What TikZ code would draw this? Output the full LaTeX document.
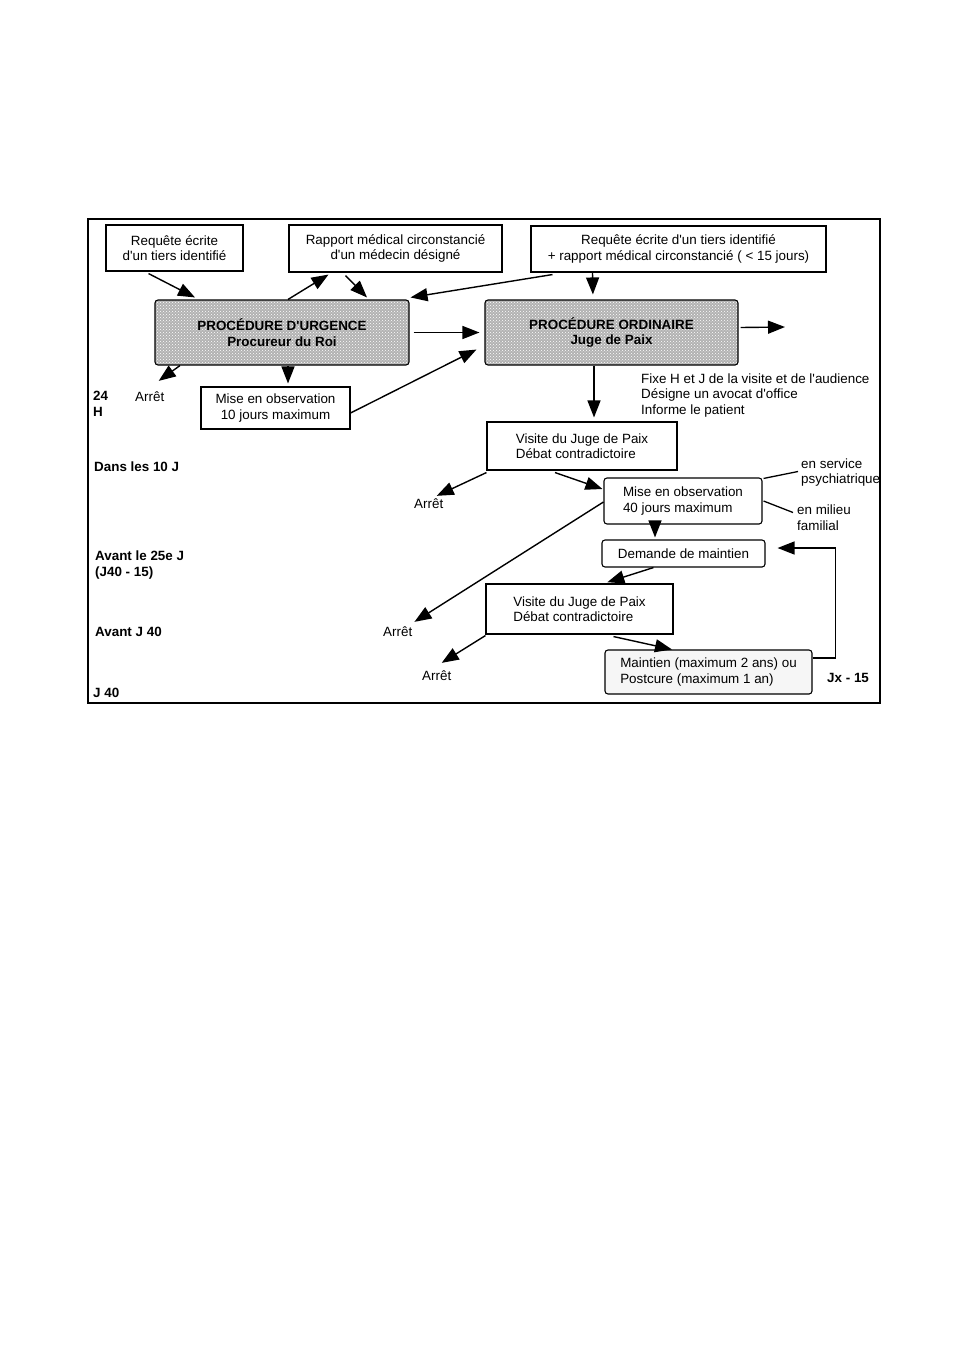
\documentclass[tikz,border=0pt]{standalone}
\usepackage{fontspec}
\setmainfont{Liberation Sans}[Ligatures=TeXOff]
\usetikzlibrary{arrows.meta, patterns}

\begin{document}
\begin{tikzpicture}[x=1pt, y=-1pt,
    font=\fontsize{13.4}{15.5}\selectfont,
    every node/.style={inner sep=0pt},
    box/.style={draw, line width=1.1pt, align=center},
    grise/.style={box, rounded corners=3pt, font=\fontsize{13.4}{15.5}\selectfont\bfseries,
        preaction={fill=gray!60}, pattern=crosshatch dots, pattern color=white},
    arrondi/.style={box, rounded corners=3pt},
    lab/.style={anchor=west, align=left},
    blab/.style={lab, font=\fontsize{13.4}{15.5}\selectfont\bfseries},
    fl/.style={line width=1.4pt, -{Triangle[length=17pt, width=13pt]}},
    trait/.style={line width=1.3pt}]

    \useasboundingbox (0,0) rectangle (962,1360);

    % cadre
    \draw[line width=1.5pt] (88,219) rectangle (880,703);

    % requetes
    \node[box, minimum width=137, minimum height=46] (req1) at (174.5,248) {Requête écrite\\d'un tiers identifié};
    \node[box, minimum width=213, minimum height=47] (rapport) at (395.5,248.5) {Rapport médical circonstancié\\d'un médecin désigné};
    \node[box, minimum width=295, minimum height=46] (req3) at (678.5,249) {Requête écrite d'un tiers identifié\\+ rapport médical circonstancié ( < 15 jours)};

    % procedures
    \node[grise, minimum width=254, minimum height=65] (urg) at (282,332.5) {PROCÉDURE D'URGENCE\\Procureur du Roi};
    \node[grise, minimum width=253, minimum height=65] (ord) at (611.5,332.5) {PROCÉDURE ORDINAIRE\\Juge de Paix};

    % suite
    \node[box, minimum width=149, minimum height=42] (obs10) at (275.5,408) {Mise en observation\\10 jours maximum};
    \node[box, align=left, minimum width=190, minimum height=48] (visite1) at (582,446) {Visite du Juge de Paix\\Débat contradictoire};
    \node[arrondi, align=left, minimum width=158, minimum height=46] (obs40) at (683,501) {Mise en observation\\40 jours maximum};
    \node[arrondi, minimum width=163, minimum height=27] (demande) at (683.5,553.5) {Demande de maintien};
    \node[box, align=left, minimum width=187, minimum height=50] (visite2) at (579.5,609) {Visite du Juge de Paix\\Débat contradictoire};
    \node[arrondi, align=left, fill=gray!7, minimum width=207, minimum height=44] (maintien) at (708.5,672) {Maintien (maximum 2 ans) ou\\Postcure (maximum 1 an)};

    % textes libres
    \node[blab] (h24) at (93,404) {24\\H};
    \node[lab] (arret1) at (135,397) {Arrêt};
    \node[blab] (dix) at (94,467) {Dans les 10 J};
    \node[lab] (arret2) at (414,504) {Arrêt};
    \node[lab] (fixe) at (641,395.5) {Fixe H et J de la visite et de l'audience\\Désigne un avocat d'office\\Informe le patient};
    \node[lab] (service) at (801,472.5) {en service\\psychiatrique};
    \node[lab] (milieu) at (797,517.5) {en milieu\\familial};
    \node[blab] (avant25) at (95,565) {Avant le 25e J\\(J40 - 15)};
    \node[blab] (avant40) at (95,632) {Avant J 40};
    \node[lab] (arret3) at (383,632) {Arrêt};
    \node[lab] (arret4) at (422,676) {Arrêt};
    \node[blab] (j40) at (93,693) {J 40};
    \node[blab] (jx) at (827,678) {Jx - 15};

    \coordinate (ordout) at (785,327);

    % fleches du haut
    \draw[fl] ([xshift=-26pt, yshift=-2pt]req1.south) -- ([xshift=-87pt, yshift=2pt]urg.north);
    \draw[fl] ([xshift=6pt]urg.north) -- ([xshift=-67pt, yshift=-2pt]rapport.south);
    \draw[fl] ([xshift=-50pt, yshift=-3pt]rapport.south) -- ([xshift=85pt, yshift=2pt]urg.north);
    \draw[fl] ([xshift=-126pt, yshift=-2pt]req3.south) -- ([xshift=1pt, yshift=2pt]urg.north east);
    \draw[fl, shorten >=5pt] ([xshift=-86pt]req3.south) -- ([xshift=-18.5pt]ord.north);
    \draw[fl, shorten <=4pt, shorten >=5pt] (urg.east) -- (ord.west);
    \draw[fl] ([yshift=-5pt]obs10.east) -- ([xshift=-8pt, yshift=16pt]ord.south west);
    \draw[fl] ([yshift=5pt, xshift=2pt]ord.east) -- (ordout);

    % urgence
    \draw[fl] ([xshift=-102pt]urg.south) -- ([xshift=9pt, yshift=11pt]arret1.north);
    \draw[fl, shorten >=3pt] ([xshift=6pt]urg.south) -- ([xshift=12.5pt]obs10.north);

    % ordinaire
    \draw[fl, shorten >=4pt] ([xshift=-17.5pt]ord.south) -- ([xshift=12pt]visite1.north);
    \draw[fl] ([yshift=-2pt]visite1.south west) -- ([xshift=8pt, yshift=3pt]arret2.north);
    \draw[fl] ([xshift=-27pt, yshift=-2pt]visite1.south) -- ([xshift=-1pt, yshift=12pt]obs40.west);
    \draw[trait] ([xshift=1pt, yshift=-1pt]obs40.north east) -- ([xshift=-3pt, yshift=1pt]service.west);
    \draw[trait] ([xshift=1pt]obs40.east) -- ([xshift=-4pt, yshift=5pt]milieu.west);
    \draw[fl] ([yshift=-1pt]obs40.west) -- ([xshift=2pt, yshift=5pt]arret3.north east);
    \draw[fl, shorten >=2pt] ([xshift=-28pt]obs40.south) -- ([xshift=-28.5pt]demande.north);
    \draw[fl, shorten >=4pt] ([xshift=-30pt]demande.south) -- ([xshift=24pt]visite2.north);
    \draw[fl] ([yshift=-1pt]visite2.south west) -- ([xshift=5pt, yshift=8pt]arret4.north);
    \draw[fl] ([xshift=34pt, yshift=-2pt]visite2.south) -- ([xshift=-36.5pt]maintien.north);
    \draw[fl] ([yshift=14pt]maintien.east) -- ++(23,0) |- ([xshift=12pt, yshift=5.5pt]demande.east);

\end{tikzpicture}
\end{document}
